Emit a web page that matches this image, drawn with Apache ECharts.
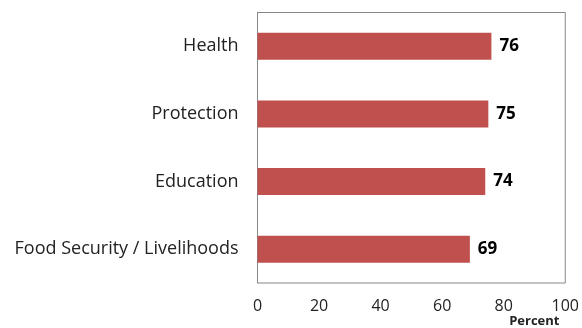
<!DOCTYPE html>
<html><head><meta charset="utf-8">
<script src="https://cdn.jsdelivr.net/npm/echarts@6/dist/echarts.min.js"></script>
<style>html,body{margin:0;padding:0;background:#fff}#c{width:582px;height:328px}</style>
</head><body><div id="c"></div>
<script>
const categories = ["Food Security / Livelihoods", "Education", "Protection", "Health"];
const values = [69, 74, 75, 76];
const xTicks = [0, 20, 40, 60, 80, 100];
const xAxisName = "Percent";

const chart = echarts.init(document.getElementById('c'), null, {renderer: 'canvas'});
chart.setOption({
  animation: false,
  backgroundColor: '#fff',
  grid: {left: 257.5, right: 14, top: 12.5, bottom: 44.5, show: true, borderColor: '#878787', borderWidth: 1, backgroundColor: 'transparent'},
  xAxis: {
    type: 'value', min: xTicks[0], max: xTicks[xTicks.length - 1], interval: 20,
    splitLine: {show: false}, axisLine: {show: false}, axisTick: {show: false},
    axisLabel: {color: '#222', fontFamily: 'Open Sans', fontSize: 16, margin: 15},
    name: xAxisName, nameLocation: 'end', nameGap: 0,
    nameTextStyle: {fontFamily: 'Open Sans', fontWeight: 'bold', fontSize: 13, color: '#222', align: 'center', verticalAlign: 'top', padding: [32, 0, 0, -62]}
  },
  yAxis: {
    type: 'category', data: categories,
    axisLine: {show: true, lineStyle: {color: '#878787'}}, axisTick: {show: false},
    axisLabel: {color: '#222', fontFamily: 'Open Sans', fontSize: 18, margin: 19, padding: [3, 0, 0, 0]}
  },
  series: [{
    type: 'bar', data: values, barWidth: 27,
    itemStyle: {color: '#C0504D'},
    label: {show: true, position: 'right', distance: 8, color: '#000', fontFamily: 'Open Sans', fontWeight: 'bold', fontSize: 17, padding: [3, 0, 0, 0]}
  }]
});
</script></body></html>
